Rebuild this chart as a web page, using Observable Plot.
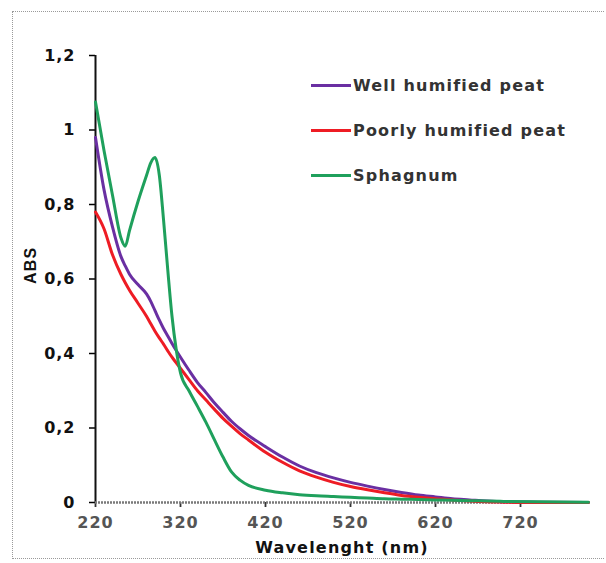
<!DOCTYPE html>
<html>
<head>
<meta charset="utf-8">
<script src="https://cdn.jsdelivr.net/npm/d3@7"></script>
<script src="https://cdn.jsdelivr.net/npm/@observablehq/plot@0.6"></script>
<style>
  html, body { margin: 0; padding: 0; background: #fff; }
  #wrap { position: relative; width: 606px; height: 563px; overflow: hidden; }
  #frame { position: absolute; left: 12px; top: 11px; width: 592px; height: 548px;
           border-top: 1px dotted #9a9a9a; border-left: 1px dotted #9a9a9a; border-bottom: 1px dotted #9a9a9a; box-sizing: border-box; }
  #chart { position: absolute; left: 0; top: 0; }
  #legend { position: absolute; left: 311px; top: 74px; font: bold 16px "DejaVu Sans", sans-serif; color: #333; letter-spacing: 1.2px; }
  .row { position: absolute; left: 0; height: 22px; display: flex; align-items: center; white-space: nowrap; }
  .sw { width: 40px; height: 3px; margin-right: 2px; }
  svg g[aria-label="y-axis tick label"] { font: bold 16px "DejaVu Sans", sans-serif; letter-spacing: 1px; fill: #111; }
  svg g[aria-label="x-axis tick label"] { font: bold 16px "DejaVu Sans", sans-serif; letter-spacing: 1px; fill: #555; }
</style>
</head>
<body>
<div id="wrap">
  <div id="frame"></div>
  <div id="chart"></div>
  <div id="legend"></div>
</div>
<script>
// ---- data ----
const series = ["Well humified peat", "Poorly humified peat", "Sphagnum"];
const seriesColors = ["#6a2fa2", "#ee1c24", "#1fa05c"];

const wavelength = [220,230,240,250,255,260,270,280,285,290,295,300,305,310,315,320,330,340,350,360,370,380,390,400,420,440,460,480,500,520,540,560,580,600,620,640,660,680,700,740,800];

const wellHumified = [0.98,0.84,0.74,0.66,0.635,0.613,0.585,0.56,0.54,0.515,0.49,0.467,0.447,0.427,0.408,0.39,0.355,0.322,0.295,0.267,0.242,0.218,0.198,0.18,0.15,0.122,0.098,0.08,0.066,0.054,0.044,0.035,0.027,0.02,0.015,0.01,0.007,0.004,0.002,0.001,0];

const poorlyHumified = [0.78,0.735,0.665,0.612,0.59,0.57,0.535,0.5,0.48,0.46,0.442,0.425,0.407,0.39,0.375,0.36,0.33,0.3,0.275,0.25,0.226,0.205,0.185,0.168,0.135,0.108,0.085,0.068,0.054,0.043,0.034,0.026,0.019,0.014,0.01,0.007,0.004,0.002,0.001,0,0];

const sphagnum = [1.075,0.945,0.825,0.71,0.688,0.73,0.808,0.878,0.912,0.926,0.88,0.76,0.625,0.5,0.41,0.348,0.3,0.258,0.215,0.168,0.122,0.082,0.06,0.046,0.033,0.026,0.021,0.018,0.016,0.014,0.012,0.01,0.009,0.008,0.007,0.006,0.005,0.004,0.003,0.002,0.001];

const xTicks = [220, 320, 420, 520, 620, 720];
const yTicks = [0, 0.2, 0.4, 0.6, 0.8, 1, 1.2];
const yTickLabels = ["0", "0,2", "0,4", "0,6", "0,8", "1", "1,2"];
const xTitle = "Wavelenght (nm)";
const yTitle = "ABS";

// ---- build table ----
const valuesBySeries = [wellHumified, poorlyHumified, sphagnum];
const rows = [];
series.forEach((s, i) => {
  wavelength.forEach((w, j) => rows.push({series: s, nm: w, abs: valuesBySeries[i][j]}));
});

const chart = Plot.plot({
  width: 606,
  height: 563,
  marginLeft: 95,
  marginRight: 18,
  marginTop: 55,
  marginBottom: 61,
  style: {background: "transparent"},
  x: {domain: [220, 800]},
  y: {domain: [0, 1.2]},
  color: {domain: series, range: seriesColors},
  marks: [
    Plot.axisY({ticks: yTicks, tickFormat: d => yTickLabels[yTicks.indexOf(d)], tickSize: 6, tickPadding: 14, strokeWidth: 1.5, label: null}),
    Plot.axisX({ticks: xTicks, tickFormat: d => String(d), tickSize: 5, tickPadding: 9, strokeWidth: 1.8, stroke: "#333", label: null}),
    Plot.ruleX([220], {stroke: "#111", strokeWidth: 2}),
    Plot.ruleY([0], {stroke: "#7a7a7a", strokeWidth: 2.5, strokeDasharray: "2,1"}),
    Plot.line(rows, {x: "nm", y: "abs", z: "series", stroke: "series", strokeWidth: 3, curve: "monotone-x"}),
    Plot.text([xTitle], {text: d => d, frameAnchor: "bottom", dy: 45, fontSize: 16, fontWeight: "bold", fill: "#111", fontFamily: "DejaVu Sans", lineAnchor: "middle"}),
    Plot.text([yTitle], {text: d => d, frameAnchor: "left", dx: -65, dy: 5, rotate: -90, fontSize: 16, fontWeight: "bold", fill: "#111", fontFamily: "Liberation Sans", lineAnchor: "middle"})
  ]
});
chart.querySelectorAll('g[aria-label="text"] text').forEach(t => t.setAttribute("letter-spacing", "1.2"));
document.getElementById("chart").appendChild(chart);

// ---- legend ----
const legend = document.getElementById("legend");
const rowTops = [0, 45, 90];
series.forEach((s, i) => {
  const r = document.createElement("div");
  r.className = "row";
  r.style.top = rowTops[i] + "px";
  const sw = document.createElement("span");
  sw.className = "sw";
  sw.style.background = seriesColors[i];
  const tx = document.createElement("span");
  tx.textContent = s;
  r.appendChild(sw);
  r.appendChild(tx);
  legend.appendChild(r);
});
</script>
</body>
</html>
